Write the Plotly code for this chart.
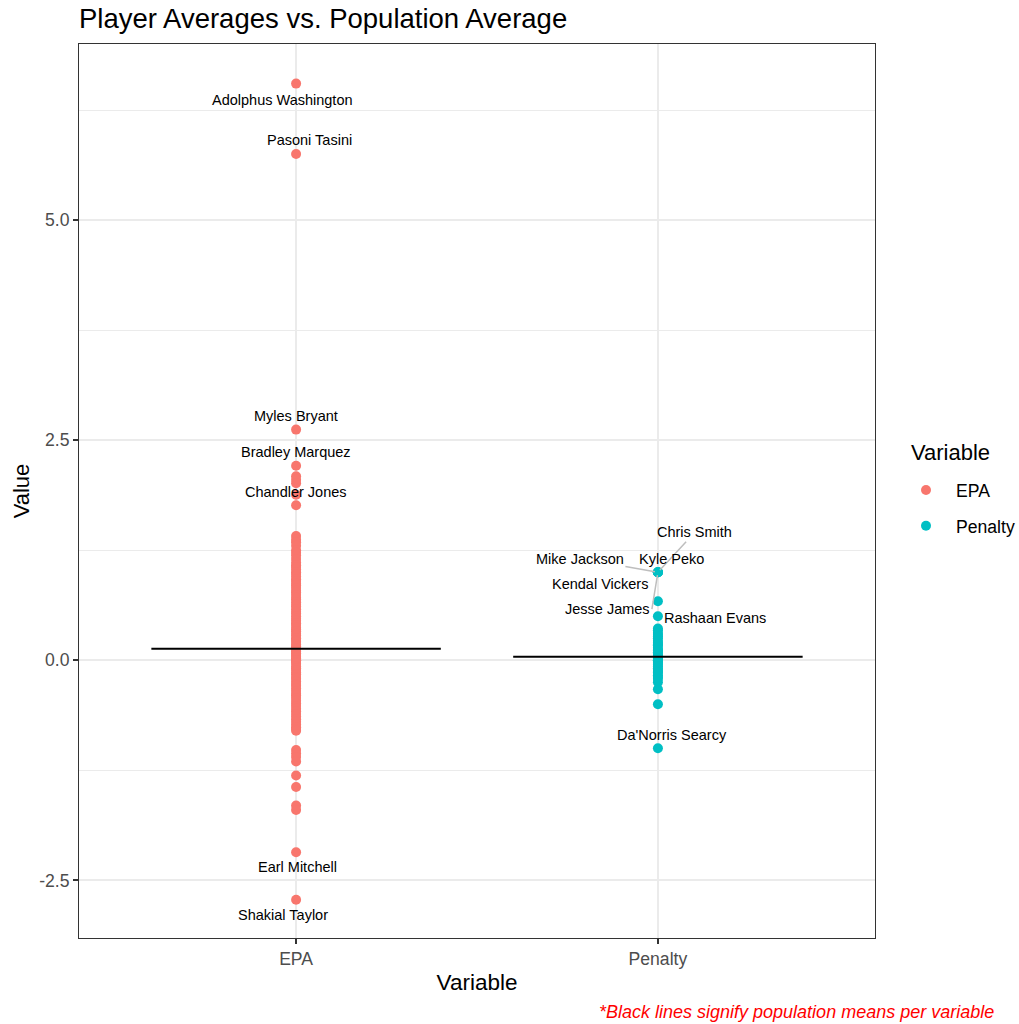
import plotly.graph_objects as go

# ---- data -------------------------------------------------------------
variables = ["EPA", "Penalty"]
colors = ["#F8766D", "#00BFC4"]
population_means = [0.13, 0.04]

epa_named_players = ["Adolphus Washington", "Pasoni Tasini", "Myles Bryant",
                     "Bradley Marquez", "Chandler Jones", "Earl Mitchell",
                     "Shakial Taylor"]
epa_named_values = [6.55, 5.75, 2.62, 2.21, 1.76, -2.18, -2.72]
epa_other_values = [
    2.09, 2.05, 2.01, 1.88,
    1.41, 1.37, 1.34, 1.30, 1.25, 1.22, 1.19, 1.15, 1.11, 1.08, 1.06, 1.03,
    1.00, 0.98, 0.95, 0.92, 0.90, 0.87, 0.85, 0.82, 0.79, 0.77, 0.74, 0.71,
    0.69, 0.66, 0.63, 0.61, 0.58, 0.55, 0.53, 0.50, 0.47, 0.45, 0.42, 0.40,
    0.37, 0.35, 0.33, 0.30, 0.28, 0.25, 0.23, 0.21, 0.18, 0.16, 0.14, 0.12,
    0.10, 0.08, 0.06, 0.04, 0.02, 0.00, 0.00, -0.02, -0.04, -0.07, -0.09,
    -0.11, -0.14, -0.16, -0.19, -0.21, -0.24, -0.27, -0.29, -0.32, -0.35,
    -0.38, -0.40, -0.43, -0.46, -0.49, -0.52, -0.55, -0.58, -0.61, -0.64,
    -0.67, -0.70, -0.73, -0.76, -0.78, -0.80,
    -1.02, -1.06, -1.10, -1.15, -1.31, -1.44, -1.65, -1.70,
]

penalty_named_players = ["Chris Smith", "Kyle Peko", "Mike Jackson",
                         "Jesse James", "Kendal Vickers", "Rashaan Evans",
                         "Da'Norris Searcy"]
penalty_named_values = [1.00, 1.00, 1.00, 1.00, 0.67, 0.50, -1.00]
penalty_other_values = [
    0.36, 0.34, 0.31, 0.29, 0.27, 0.25, 0.22, 0.20, 0.18, 0.17, 0.14, 0.12,
    0.11, 0.09, 0.07, 0.05, 0.04, 0.02, 0.00, 0.00, -0.02, -0.03, -0.05,
    -0.07, -0.09, -0.11, -0.13, -0.14, -0.17, -0.19, -0.21, -0.25, -0.33,
    -0.50,
]

y_tick_values = [-2.5, 0.0, 2.5, 5.0]
y_tick_labels = ["-2.5", "0.0", "2.5", "5.0"]

# ---- label placement (pixel offsets from the point, screen y down) ----
# (dx, dy, segment, anchor)
epa_label_style = [(-14, 16, False, "center"), (13, -14, False, "center"),
                   (0, -14, False, "center"), (0, -14, False, "center"),
                   (0, -13, False, "center"), (1, 15, False, "center"),
                   (-13, 15, False, "center")]
penalty_label_style = [(37, -40, True, "center"), (14, -13.5, False, "center"),
                       (-78, -13.5, True, "center"), (-6, 37, True, "right"),
                       (-58, -17.5, False, "center"), (57, 1.5, False, "center"),
                       (14, -13.5, False, "center")]

FONT = "Liberation Sans, Arial, Helvetica, sans-serif"

fig = go.Figure()

groups = [
    (epa_named_values + epa_other_values),
    (penalty_named_values + penalty_other_values),
]
for i, (name, vals) in enumerate(zip(variables, groups)):
    pos = i + 1
    fig.add_trace(go.Scatter(
        x=[pos] * len(vals), y=vals, mode="markers", name=name,
        legendgroup=name,
        marker=dict(color=colors[i], size=10, line=dict(width=0)),
        hoverinfo="y",
    ))

# population mean segments
for i, m in enumerate(population_means):
    pos = i + 1
    fig.add_trace(go.Scatter(
        x=[pos - 0.4, pos + 0.4], y=[m, m], mode="lines",
        line=dict(color="black", width=2), showlegend=False, hoverinfo="skip",
    ))

annotations = []
label_sets = [
    (1, epa_named_players, epa_named_values, epa_label_style),
    (2, penalty_named_players, penalty_named_values, penalty_label_style),
]
for pos, names, vals, styles in label_sets:
    for name, v, (dx, dy, seg, anchor) in zip(names, vals, styles):
        if seg:
            annotations.append(dict(
                x=pos, y=v, xref="x", yref="y", text=name,
                showarrow=True, ax=dx, ay=dy, arrowhead=0, arrowwidth=1.5,
                arrowcolor="#BEBEBE", standoff=3, xanchor=anchor,
                font=dict(family=FONT, size=14.5, color="black"),
            ))
        else:
            annotations.append(dict(
                x=pos, y=v, xref="x", yref="y", text=name, showarrow=False,
                xshift=dx, yshift=-dy, xanchor="center", yanchor="middle",
                font=dict(family=FONT, size=14.5, color="black"),
            ))

# legend title
annotations.append(dict(
    text="Variable", xref="paper", yref="paper",
    x=(950 - 79) / 796, y=(938 - 452) / 894,
    xanchor="center", yanchor="middle", showarrow=False,
    font=dict(family=FONT, size=22, color="black"),
))

# caption
annotations.append(dict(
    text="*Black lines signify population means per variable",
    xref="paper", yref="paper", x=1.1525, y=-0.0828,
    xanchor="right", yanchor="middle", showarrow=False,
    font=dict(family=FONT, size=18, color="#FF0000", style="italic"),
))

fig.update_layout(
    width=1019, height=1024,
    margin=dict(l=79, r=144, t=44, b=86, autoexpand=False),
    paper_bgcolor="white", plot_bgcolor="white",
    font=dict(family=FONT, color="black"),
    title=dict(text="Player Averages vs. Population Average",
               x=79 / 1019, xanchor="left", xref="container",
               y=(1024 - 18) / 1024, yanchor="middle",
               font=dict(family=FONT, size=27.5, color="black")),
    showlegend=True,
    legend=dict(
        font=dict(family=FONT, size=17.6, color="black"),
        xref="container", yref="container",
        x=896 / 1019, xanchor="left", y=1 - 472 / 1024, yanchor="top",
        itemwidth=50, tracegroupgap=10, bgcolor="rgba(0,0,0,0)",
    ),
    annotations=annotations,
)

fig.update_xaxes(
    range=[0.4, 2.6], tickvals=[1, 2], ticktext=variables,
    showgrid=True, gridcolor="#EBEBEB", gridwidth=2, zeroline=False,
    showline=True, mirror=True, linecolor="#333333", linewidth=1,
    ticks="outside", ticklen=5, tickcolor="#333333", tickwidth=1.5,
    tickfont=dict(family=FONT, size=17.6, color="#4D4D4D"),
    title=dict(text="Variable", font=dict(family=FONT, size=22.5, color="black"),
               standoff=6),
)
fig.update_yaxes(
    range=[-3.155, 7.0], tickvals=y_tick_values, ticktext=y_tick_labels,
    showgrid=True, gridcolor="#EBEBEB", gridwidth=2, zeroline=False,
    minor=dict(tickvals=[-1.25, 1.25, 3.75, 6.25], showgrid=True,
               gridcolor="#EBEBEB", gridwidth=1, ticks=""),
    showline=True, mirror=True, linecolor="#333333", linewidth=1,
    ticks="outside", ticklen=5, tickcolor="#333333", tickwidth=1.5,
    tickfont=dict(family=FONT, size=17.6, color="#4D4D4D"),
    title=dict(text="Value", font=dict(family=FONT, size=22, color="black"),
               standoff=3),
)

fig.write_html("out.html")
